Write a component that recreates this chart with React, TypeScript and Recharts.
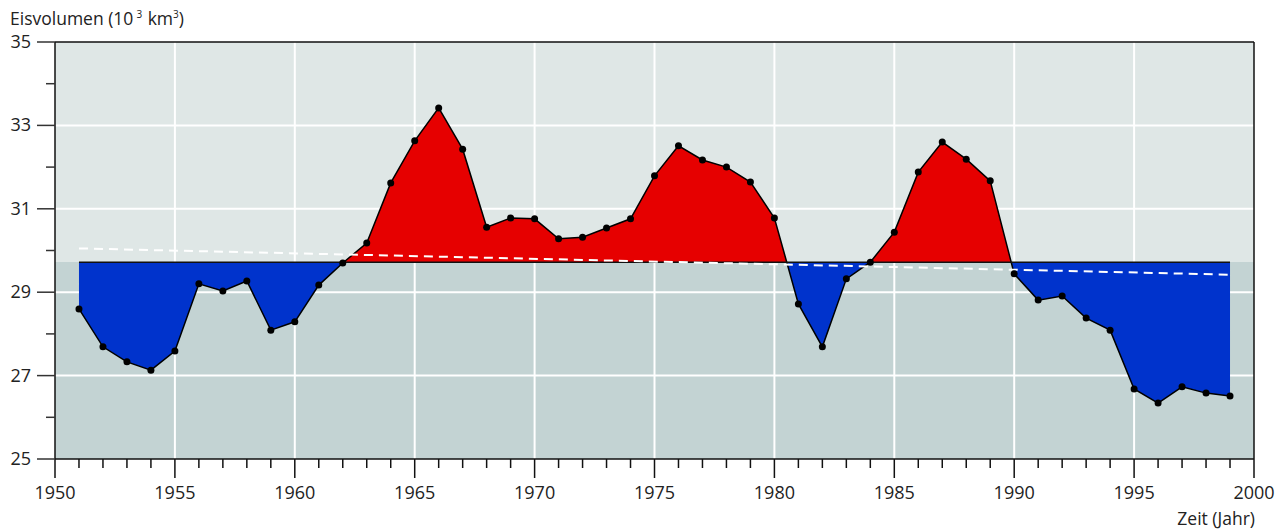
import {
  ComposedChart,
  Area,
  XAxis,
  YAxis,
  CartesianGrid,
  ReferenceLine,
} from "recharts";

// Eisvolumen je Jahr (10^3 km^3)
const years = [
  1951, 1952, 1953, 1954, 1955, 1956, 1957, 1958, 1959, 1960,
  1961, 1962, 1963, 1964, 1965, 1966, 1967, 1968, 1969, 1970,
  1971, 1972, 1973, 1974, 1975, 1976, 1977, 1978, 1979, 1980,
  1981, 1982, 1983, 1984, 1985, 1986, 1987, 1988, 1989, 1990,
  1991, 1992, 1993, 1994, 1995, 1996, 1997, 1998, 1999,
];
const volume = [
  28.6, 27.69, 27.33, 27.13, 27.59, 29.2, 29.03, 29.27, 28.09, 28.29,
  29.17, 29.7, 30.18, 31.62, 32.63, 33.42, 32.43, 30.56, 30.78, 30.76,
  30.28, 30.32, 30.54, 30.76, 31.79, 32.51, 32.17, 32.0, 31.64, 30.78,
  28.72, 27.69, 29.32, 29.72, 30.44, 31.88, 32.6, 32.19, 31.67, 29.44,
  28.81, 28.91, 28.38, 28.09, 26.68, 26.34, 26.73, 26.58, 26.51,
];
const meanVolume = 29.72;
const trendYears = [1951, 1999];
const trendValues = [30.05, 29.42];

const xLabels = [1950, 1955, 1960, 1965, 1970, 1975, 1980, 1985, 1990, 1995, 2000];
const xTicks = [1950, ...years, 2000];
const yTicks = [25, 26, 27, 28, 29, 30, 31, 32, 33, 34, 35];
const yLabels = [25, 27, 29, 31, 33, 35];
const gridX = [1955, 1960, 1965, 1970, 1975, 1980, 1985, 1990, 1995];
const gridY = [27, 29, 31, 33];

const data = years.map((year, i) => ({ year, v: volume[i] }));

const vMax = Math.max(...volume);
const vMin = Math.min(...volume, meanVolume);
const splitOffset = (vMax - meanVolume) / (vMax - vMin);

const font = "'Open Sans', sans-serif";

const XTick = (props: any) => {
  const { x, y, payload } = props;
  const major = xLabels.includes(payload.value);
  return (
    <g>
      <line x1={x} x2={x} y1={y} y2={y + (major ? 19 : 9)} stroke="#111" strokeWidth={1.5} />
      {major && (
        <text x={x} y={y + 40} textAnchor="middle" fontSize={18} fill="#222" fontFamily={font}>
          {payload.value}
        </text>
      )}
    </g>
  );
};

const YTick = (props: any) => {
  const { x, y, payload } = props;
  const major = yLabels.includes(payload.value);
  return (
    <g>
      <line x1={x - (major ? 18 : 9)} x2={x} y1={y} y2={y} stroke="#333" strokeWidth={1.5} />
      {major && (
        <text x={x - 24} y={y} dy={6} textAnchor="end" fontSize={18} fill="#222" fontFamily={font}>
          {payload.value}
        </text>
      )}
    </g>
  );
};

export default function App() {
  return (
    <div
      style={{
        position: "absolute",
        left: 0,
        top: 0,
        width: 1280,
        height: 529,
        background: "#fff",
        fontFamily: font,
        color: "#222",
      }}
    >
      <div style={{ position: "absolute", left: 10, top: 3, fontSize: 17.5, lineHeight: "22px" }}>
        Eisvolumen (10<sup style={{ fontSize: 10, marginLeft: 3, marginRight: 1 }}>3</sup> km
        <sup style={{ fontSize: 10 }}>3</sup>)
      </div>
      <div style={{ position: "absolute", right: 25, top: 507, fontSize: 17.5, lineHeight: "22px" }}>
        Zeit (Jahr)
      </div>
      <ComposedChart
        width={1280}
        height={529}
        data={data}
        margin={{ top: 42, right: 26, left: 0, bottom: 0 }}
      >
        <defs>
          <linearGradient id="splitFill" x1="0" y1="0" x2="0" y2="1">
            <stop offset={splitOffset} stopColor="#e60000" />
            <stop offset={splitOffset} stopColor="#0033cc" />
          </linearGradient>
        </defs>
        <CartesianGrid
          horizontalValues={[35, meanVolume]}
          horizontalFill={["#dfe7e6", "#c3d3d3"]}
          vertical={false}
          stroke="none"
        />
        <CartesianGrid
          horizontalValues={gridY}
          verticalValues={gridX}
          stroke="#fff"
          strokeWidth={2}
        />
        <XAxis
          dataKey="year"
          type="number"
          domain={[1950, 2000]}
          ticks={xTicks}
          interval={0}
          height={70}
          tickSize={0}
          tickMargin={0}
          tickLine={false}
          tick={<XTick />}
          axisLine={{ stroke: "#111", strokeWidth: 1.5 }}
        />
        <YAxis
          type="number"
          domain={[25, 35]}
          ticks={yTicks}
          interval={0}
          width={55}
          tickSize={0}
          tickMargin={0}
          tickLine={false}
          tick={<YTick />}
          axisLine={{ stroke: "#111", strokeWidth: 1.5 }}
        />
        <Area
          dataKey="v"
          type="linear"
          baseValue={meanVolume}
          fill="url(#splitFill)"
          fillOpacity={1}
          stroke="#000"
          strokeWidth={1.5}
          dot={{ r: 3.5, fill: "#000", stroke: "#000", strokeWidth: 0 }}
          activeDot={false}
          isAnimationActive={false}
        />
        <ReferenceLine
          segment={[
            { x: years[0], y: meanVolume },
            { x: years[years.length - 1], y: meanVolume },
          ]}
          stroke="#111"
          strokeWidth={1.5}
        />
        <ReferenceLine
          segment={[
            { x: trendYears[0], y: trendValues[0] },
            { x: trendYears[1], y: trendValues[1] },
          ]}
          stroke="#fff"
          strokeWidth={2}
          strokeDasharray="9 6"
        />
        <ReferenceLine y={35} stroke="#111" strokeWidth={1.5} />
        <ReferenceLine x={2000} stroke="#111" strokeWidth={1.5} />
      </ComposedChart>
    </div>
  );
}
